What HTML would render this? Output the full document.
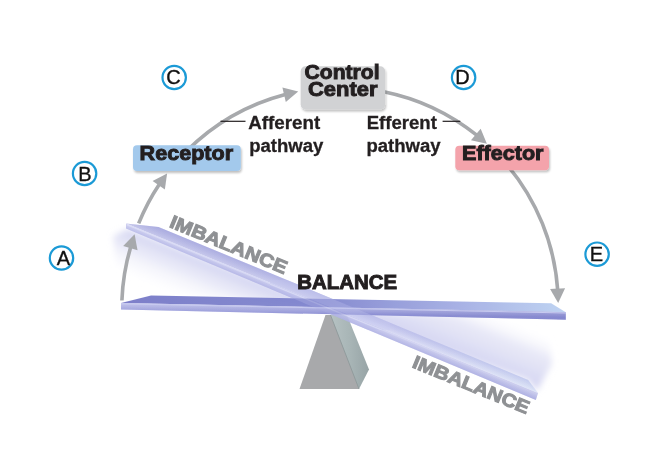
<!DOCTYPE html>
<html><head><meta charset="utf-8"><style>
html,body{margin:0;padding:0;background:#fff;width:667px;height:456px;overflow:hidden}
svg{display:block}
text{font-family:"Liberation Sans",sans-serif}
</style></head><body>
<svg width="667" height="456" viewBox="0 0 667 456" font-family="&quot;Liberation Sans&quot;, sans-serif">

<defs>
 <linearGradient id="lvTop" x1="121" x2="566" y1="0" y2="0" gradientUnits="userSpaceOnUse">
  <stop offset="0" stop-color="#7275c5"/><stop offset="0.45" stop-color="#7c81cc"/><stop offset="0.75" stop-color="#a0aae2"/><stop offset="1" stop-color="#bad0f1"/>
 </linearGradient>
 <linearGradient id="lvFront" x1="121" x2="566" y1="0" y2="0" gradientUnits="userSpaceOnUse">
  <stop offset="0" stop-color="#a3a6e0"/><stop offset="0.3" stop-color="#9a9ddc"/><stop offset="0.5" stop-color="#8e91d5"/><stop offset="1" stop-color="#7b7ecb"/>
 </linearGradient>
 <linearGradient id="tiTop" x1="126" x2="538" y1="0" y2="0" gradientUnits="userSpaceOnUse">
  <stop offset="0" stop-color="#a3a5de"/><stop offset="0.3" stop-color="#a9abe1"/><stop offset="0.55" stop-color="#bcbfea"/><stop offset="0.64" stop-color="#c4c6ee"/><stop offset="1" stop-color="#cad5f2"/>
 </linearGradient>
 <linearGradient id="tiFront" x1="126" x2="538" y1="0" y2="0" gradientUnits="userSpaceOnUse">
  <stop offset="0" stop-color="#bdbfeb"/><stop offset="0.3" stop-color="#b5b7e7"/><stop offset="0.64" stop-color="#b0b2e5"/><stop offset="1" stop-color="#a7aae1"/>
 </linearGradient>
 <linearGradient id="hiL" x1="126" x2="538" y1="0" y2="0" gradientUnits="userSpaceOnUse">
  <stop offset="0" stop-color="#d6d8f4" stop-opacity="1"/><stop offset="0.6" stop-color="#d2d4f3" stop-opacity="0.8"/><stop offset="1" stop-color="#d2d4f3" stop-opacity="0"/>
 </linearGradient>
 <linearGradient id="tiTopOv" x1="300" y1="285" x2="296.4" y2="293.8" gradientUnits="userSpaceOnUse">
  <stop offset="0" stop-color="#8e90d6" stop-opacity="0.25"/><stop offset="1" stop-color="#ffffff" stop-opacity="0.3"/>
 </linearGradient>
 <linearGradient id="tiFrOv" x1="300" y1="295.4" x2="297.5" y2="301.4" gradientUnits="userSpaceOnUse">
  <stop offset="0" stop-color="#ffffff" stop-opacity="0.3"/><stop offset="1" stop-color="#8e90d6" stop-opacity="0.25"/>
 </linearGradient>
 <linearGradient id="lvFrOv" x1="300" y1="306.7" x2="299.9" y2="313.2" gradientUnits="userSpaceOnUse">
  <stop offset="0" stop-color="#ffffff" stop-opacity="0.25"/><stop offset="1" stop-color="#7c7fcb" stop-opacity="0.3"/>
 </linearGradient>
 <clipPath id="cross"><rect x="270" y="280" width="120" height="50"/></clipPath>
 <linearGradient id="fulR" x1="0" x2="1" y1="0" y2="0">
  <stop offset="0" stop-color="#b7c3c4"/><stop offset="0.5" stop-color="#a9b6b7"/><stop offset="1" stop-color="#97a4a6"/>
 </linearGradient>
 <filter id="blur3" x="-30%" y="-30%" width="160%" height="160%"><feGaussianBlur stdDeviation="3"/></filter>
 <linearGradient id="trL" gradientUnits="userSpaceOnUse" x1="200" y1="256" x2="181" y2="302">
  <stop offset="0" stop-color="#c3c5ec" stop-opacity="1"/><stop offset="0.45" stop-color="#d8d9f2" stop-opacity="0.6"/><stop offset="1" stop-color="#ffffff" stop-opacity="0"/>
 </linearGradient>
 <linearGradient id="trR" gradientUnits="userSpaceOnUse" x1="500" y1="368" x2="519" y2="322">
  <stop offset="0" stop-color="#d0d1f0" stop-opacity="0.95"/><stop offset="0.55" stop-color="#dcddf3" stop-opacity="0.7"/><stop offset="1" stop-color="#ffffff" stop-opacity="0"/>
 </linearGradient>
</defs>
<g filter="url(#blur3)"><g opacity="0.8"><polygon points="328,309 128,229 113,236 116,266 160,292 300,305" fill="url(#trL)"/></g><g opacity="0.9"><polygon points="328,309 528,379.9 537,391 552,364 549,332 525,317 380,313" fill="url(#trR)"/></g></g>
<polygon points="329,315 347,315 369,369.4 359,389 357.5,389" fill="url(#fulR)"/>
<polygon points="325.5,315 330.5,315 359,389 299.5,389" fill="#a8a9ab"/>
<line x1="330.5" y1="315" x2="359" y2="389" stroke="#8f9a9b" stroke-width="0.9"/>
<g opacity="0.88">
<polygon points="126,223.5 158.5,226.9 528.2,379.9 538,392.9" fill="url(#tiTop)"/>
<polygon points="126,223.5 538,392.9 535.8,400.1 126,228.6" fill="url(#tiFront)"/>
<polygon points="126,223.5 158.5,226.9 528.2,379.9 538,392.9" fill="url(#tiTopOv)"/>
<polygon points="126,223.5 538,392.9 535.8,400.1 126,228.6" fill="url(#tiFrOv)"/>
<line x1="127" y1="224.6" x2="537.5" y2="393.8" stroke="url(#hiL)" stroke-width="1.3"/>
</g>
<g opacity="0.92">
<polygon points="121,303 151,295.6 551.2,303.2 565.8,312.2" fill="url(#lvTop)"/>
<polygon points="121,303 565.8,312.2 565.8,319.7 121,309.4" fill="url(#lvFront)"/>
<polygon points="121,303 565.8,312.2 565.8,319.7 121,309.4" fill="url(#lvFrOv)"/>
<line x1="121" y1="303.8" x2="565.8" y2="313" stroke="#c4c7ef" stroke-width="1"/>
</g>
<g opacity="0.35" clip-path="url(#cross)">
<polygon points="126,223.5 158.5,226.9 528.2,379.9 538,392.9" fill="#c4c7ef"/>
<polygon points="126,223.5 538,392.9 535.8,400.1 126,228.6" fill="#b6b9e9"/>
<line x1="127" y1="225.3" x2="537.5" y2="394.3" stroke="#e0e2f7" stroke-width="1.3"/>
</g>

<path d="M121.90,300.50 A217.7,217.7 0 0 1 130.66,247.03" fill="none" stroke="#a7a9ac" stroke-width="3.6"/><polygon points="134.61,234.27 137.53,250.33 123.19,245.93" fill="#a7a9ac"/><path d="M138.65,223.45 A217.7,217.7 0 0 1 159.35,184.26" fill="none" stroke="#a7a9ac" stroke-width="3.6"/><polygon points="167.10,173.38 164.84,189.54 152.60,180.88" fill="#a7a9ac"/><path d="M186.56,151.06 A217.7,217.7 0 0 1 285.20,94.44" fill="none" stroke="#a7a9ac" stroke-width="3.6"/><polygon points="298.22,91.45 285.80,102.04 282.39,87.43" fill="#a7a9ac"/><path d="M383.90,91.67 A217.7,217.7 0 0 1 476.72,135.18" fill="none" stroke="#a7a9ac" stroke-width="3.6"/><polygon points="486.87,143.85 470.97,140.19 480.68,128.75" fill="#a7a9ac"/><path d="M507.27,165.07 A217.7,217.7 0 0 1 557.67,289.75" fill="none" stroke="#a7a9ac" stroke-width="3.6"/><polygon points="558.19,303.10 550.09,288.93 565.08,288.30" fill="#a7a9ac"/>

<defs>
 <filter id="sh" x="-20%" y="-20%" width="140%" height="150%">
  <feGaussianBlur in="SourceAlpha" stdDeviation="1.2"/>
  <feOffset dx="0.8" dy="1.5"/>
  <feComponentTransfer><feFuncA type="linear" slope="0.25"/></feComponentTransfer>
  <feMerge><feMergeNode/><feMergeNode in="SourceGraphic"/></feMerge>
 </filter>
</defs>
<rect x="300.7" y="66.3" width="84.4" height="43.2" rx="5" fill="#d1d2d4" filter="url(#sh)"/>
<rect x="133" y="145.3" width="107.8" height="25.8" rx="4" fill="#a3c9ec" filter="url(#sh)"/>
<rect x="455.3" y="145.7" width="93.7" height="24.5" rx="4" fill="#f4a3ab" filter="url(#sh)"/>

<text x="304.5" y="79.3" font-size="20" font-weight="bold" fill="#231f20" stroke="#231f20" stroke-width="0.95" textLength="75" lengthAdjust="spacingAndGlyphs">Control</text><text x="308" y="95.6" font-size="20" font-weight="bold" fill="#231f20" stroke="#231f20" stroke-width="0.95" textLength="69.5" lengthAdjust="spacingAndGlyphs">Center</text><text x="139.6" y="159.8" font-size="20" font-weight="bold" fill="#231f20" stroke="#231f20" stroke-width="0.95" textLength="93.5" lengthAdjust="spacingAndGlyphs">Receptor</text><text x="462" y="160" font-size="20" font-weight="bold" fill="#231f20" stroke="#231f20" stroke-width="0.95" textLength="81.5" lengthAdjust="spacingAndGlyphs">Effector</text>
<text x="248.3" y="129.2" font-size="18" font-weight="bold" fill="#231f20" stroke="#231f20" stroke-width="0.3" textLength="72" lengthAdjust="spacingAndGlyphs">Afferent</text><text x="249.2" y="151.5" font-size="18" font-weight="bold" fill="#231f20" stroke="#231f20" stroke-width="0.3" textLength="74.2" lengthAdjust="spacingAndGlyphs">pathway</text><text x="366.7" y="129.2" font-size="18" font-weight="bold" fill="#231f20" stroke="#231f20" stroke-width="0.3" textLength="70.2" lengthAdjust="spacingAndGlyphs">Efferent</text><text x="366.4" y="151.5" font-size="18" font-weight="bold" fill="#231f20" stroke="#231f20" stroke-width="0.3" textLength="74.2" lengthAdjust="spacingAndGlyphs">pathway</text><line x1="220.5" y1="121.3" x2="245.5" y2="121.3" stroke="#231f20" stroke-width="1.2"/><line x1="442.6" y1="121.3" x2="460.3" y2="121.3" stroke="#231f20" stroke-width="1.2"/>
<circle cx="61.5" cy="258" r="11.7" fill="none" stroke="#1b9ad6" stroke-width="2.2"/><text x="63.3" y="265" text-anchor="middle" font-size="20" fill="#111" stroke="#111" stroke-width="0.35">A</text><circle cx="84.6" cy="173.5" r="11.7" fill="none" stroke="#1b9ad6" stroke-width="2.2"/><text x="84.8" y="180.6" text-anchor="middle" font-size="20" fill="#111" stroke="#111" stroke-width="0.35">B</text><circle cx="174.2" cy="77.5" r="11.7" fill="none" stroke="#1b9ad6" stroke-width="2.2"/><text x="173.6" y="84.1" text-anchor="middle" font-size="20" fill="#111" stroke="#111" stroke-width="0.35">C</text><circle cx="463.6" cy="77.5" r="11.7" fill="none" stroke="#1b9ad6" stroke-width="2.2"/><text x="462.6" y="84.0" text-anchor="middle" font-size="20" fill="#111" stroke="#111" stroke-width="0.35">D</text><circle cx="597.1" cy="254.2" r="11.7" fill="none" stroke="#1b9ad6" stroke-width="2.2"/><text x="596.4" y="260.6" text-anchor="middle" font-size="20" fill="#111" stroke="#111" stroke-width="0.35">E</text>
<text x="0" y="0" font-size="18.5" font-weight="bold" fill="#8f9194" stroke="#8f9194" stroke-width="1" textLength="125" lengthAdjust="spacingAndGlyphs" transform="translate(168.5,226.8) rotate(22.3)">IMBALANCE</text><text x="0" y="0" font-size="18.5" font-weight="bold" fill="#8f9194" stroke="#8f9194" stroke-width="1" textLength="124.5" lengthAdjust="spacingAndGlyphs" transform="translate(411.2,367) rotate(22.3)">IMBALANCE</text><text x="297.3" y="288.6" font-size="19.6" font-weight="bold" fill="#231f20" stroke="#231f20" stroke-width="0.95" textLength="99.8" lengthAdjust="spacingAndGlyphs">BALANCE</text>
</svg>
</body></html>
